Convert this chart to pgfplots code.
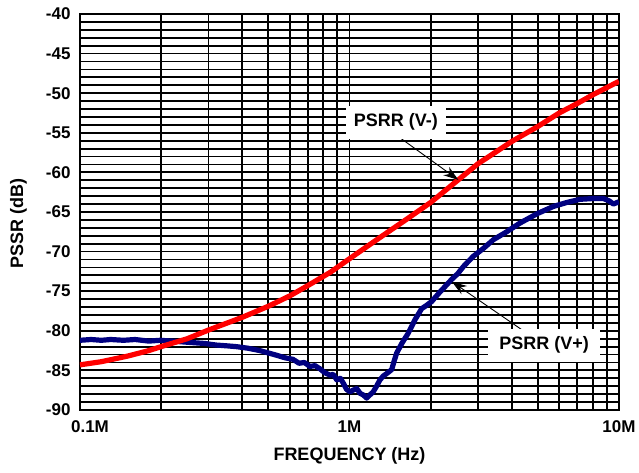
\documentclass[border=0pt]{standalone}
\usepackage{fontspec}
\setmainfont{Liberation Sans}
\usepackage{pgfplots}
\pgfplotsset{compat=1.18}
\usetikzlibrary{arrows.meta}
\definecolor{psrrneg}{RGB}{255,0,0}
\definecolor{psrrpos}{RGB}{0,0,128}
\newcommand{\tickfont}{\bfseries\fontsize{17bp}{20bp}\selectfont}
\newcommand{\labfont}{\bfseries\fontsize{18bp}{21bp}\selectfont}
\begin{document}
\begin{tikzpicture}[x=1bp,y=1bp]
\useasboundingbox (0,0) rectangle (639,473);
\begin{axis}[
  at={(80bp,63bp)}, anchor=south west,
  width=539bp, height=396bp, scale only axis,
  xmode=log, xmin=0.1, xmax=10,
  ymin=-90, ymax=-40,
  xtick={0.1,1,10}, xticklabels={\hspace*{20bp}0.1M,1M,10M},
  ytick={-90,-85,...,-40},
  yticklabels={-90,-85,-80,-75,-70,-65,-60,-55,-50,-45,-40},
  minor ytick={-89,-88,...,-41},
  grid=both,
  major grid style={black,line width=1.8bp},
  minor grid style={black,line width=1.8bp},
  axis line style={black,line width=2bp},
  major tick length=0pt, minor tick length=0pt,
  tick label style={font=\tickfont},
  xticklabel style={yshift=-7bp},
  yticklabel style={xshift=-6bp},
  xlabel={FREQUENCY (Hz)}, ylabel={PSSR (dB)},
  label style={font=\labfont},
  xlabel style={at={(axis description cs:0.5,-0.1162)}, anchor=center},
  ylabel style={at={(axis description cs:-0.1141,0.47)}, anchor=center, rotate=0},
]
% PSRR (V+)
\addplot[psrrpos, line width=5.2bp, line join=round] coordinates {
(0.100,-81.2) (0.110,-81.1) (0.120,-81.2) (0.130,-81.1) (0.145,-81.2)
(0.160,-81.1) (0.180,-81.3) (0.198,-81.2) (0.220,-81.3) (0.240,-81.4)
(0.263,-81.5) (0.290,-81.6) (0.320,-81.8) (0.351,-81.9) (0.380,-82.0)
(0.420,-82.2) (0.465,-82.5) (0.500,-82.8) (0.538,-83.1) (0.575,-83.4)
(0.617,-83.6) (0.650,-84.1) (0.680,-84.0) (0.713,-84.5) (0.745,-84.4)
(0.777,-84.8) (0.810,-85.3) (0.847,-85.6) (0.870,-85.5) (0.897,-86.2)
(0.925,-86.0) (0.948,-86.6) (0.975,-87.4) (1.004,-87.7) (1.030,-87.5)
(1.064,-87.3) (1.095,-87.9) (1.125,-88.1) (1.158,-88.5) (1.190,-88.1)
(1.225,-87.7) (1.260,-87.0) (1.297,-86.2) (1.335,-85.7) (1.374,-85.4)
(1.434,-84.9) (1.465,-83.8) (1.497,-82.8) (1.563,-81.6) (1.652,-80.3)
(1.750,-78.6) (1.853,-77.2) (1.930,-76.8) (2.018,-76.3) (2.166,-75.1)
(2.250,-74.5) (2.395,-73.5) (2.520,-72.8) (2.644,-71.9) (2.879,-70.6)
(3.139,-69.6) (3.420,-68.5) (3.830,-67.5) (4.290,-66.4) (4.980,-65.2)
(5.710,-64.3) (6.400,-63.8) (7.170,-63.4) (8.030,-63.3) (8.750,-63.3)
(9.200,-63.6) (9.530,-64.0) (10.00,-63.7)
};
% PSRR (V-)
\addplot[psrrneg, line width=5.2bp, line join=round] coordinates {
(0.10,-84.3) (0.12,-83.9) (0.15,-83.2) (0.18,-82.5) (0.20,-82.0)
(0.25,-81.0) (0.30,-79.9) (0.40,-78.3) (0.50,-76.9) (0.60,-75.6)
(0.70,-74.3) (0.85,-72.6) (1.00,-70.9) (1.30,-68.2) (1.60,-66.1)
(2.00,-63.8) (2.50,-61.1) (3.00,-58.9) (4.00,-56.1) (5.00,-54.2)
(6.00,-52.5) (7.00,-51.3) (8.00,-50.2) (9.00,-49.3) (10.0,-48.5)
};
% annotations
\draw[black, line width=0.9bp, -{Stealth[length=15bp,width=10bp]}]
  (rel axis cs:0.587,0.694) -- (rel axis cs:0.702,0.581);
\node[fill=white, font=\labfont, minimum width=100bp, minimum height=33bp, inner sep=0pt]
  at (rel axis cs:0.586,0.727) {PSRR (V-)};
\draw[black, line width=0.9bp, -{Stealth[length=15bp,width=10bp]}]
  (rel axis cs:0.829,0.194) -- (rel axis cs:0.690,0.324);
\node[fill=white, font=\labfont, minimum width=112bp, minimum height=33bp, inner sep=0pt]
  at (rel axis cs:0.861,0.164) {PSRR (V+)};
\end{axis}
\end{tikzpicture}
\end{document}
